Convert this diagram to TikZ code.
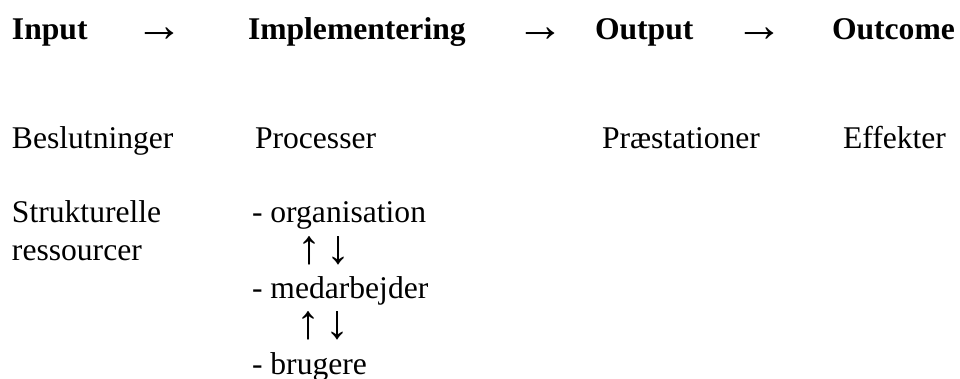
\documentclass[tikz,border=0pt]{standalone}
\usepackage{fontspec}
\setmainfont{Liberation Serif}
\begin{document}
\begin{tikzpicture}[x=1pt,y=-1pt,
  txt/.style={inner sep=0pt,outer sep=0pt,anchor=base west,font=\fontsize{31.6}{38}\selectfont},
  hd/.style={txt,font=\fontsize{31.6}{38}\selectfont\bfseries},
  sym/.style={inner sep=0pt,outer sep=0pt,anchor=base,font=\fontsize{48}{54}\selectfont}]
\useasboundingbox (0,0) rectangle (960,379);
% header row
\node[hd] (input) at (12,40) {Input};
\node[sym] (a1) at (159,42) {→};
\node[hd] (impl) at (248,40) {Implementering};
\node[sym] (a2) at (540,42) {→};
\node[hd] (output) at (595,40) {Output};
\node[sym] (a3) at (759,42) {→};
\node[hd] (outcome) at (832,40) {Outcome};
% second row
\node[txt] (besl) at (12,148.5) {Beslutninger};
\node[txt] (proc) at (255,148.5) {Processer};
\node[txt] (praes) at (602,148.5) {Præstationer};
\node[txt] (eff) at (843,148.5) {Effekter};
% third block
\node[txt] (strukt) at (12,223) {Strukturelle};
\node[txt] (ress) at (12,260.75) {ressourcer};
\node[txt] (org) at (252,223) {- organisation};
\node[sym] (u1) at (309,263) {↑};
\node[sym] (d1) at (338,263) {↓};
\node[txt] (med) at (252,298.5) {- medarbejder};
\node[sym] (u2) at (308,338.5) {↑};
\node[sym] (d2) at (337,338.5) {↓};
\node[txt] (brug) at (252,374) {- brugere};
\end{tikzpicture}
\end{document}
